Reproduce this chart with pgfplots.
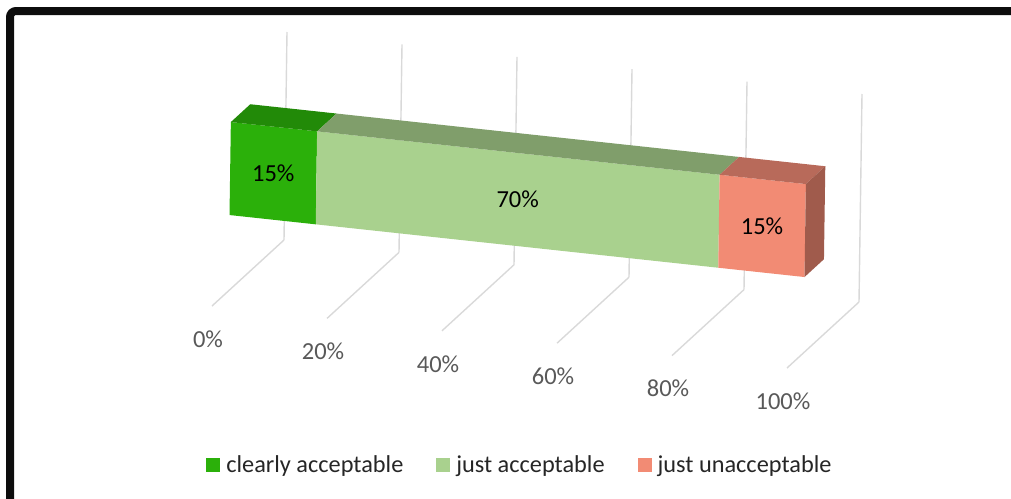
\documentclass[border=0pt]{standalone}
\usepackage{pgfplots}
\pgfplotsset{compat=1.18}
\usepackage{fontspec}
\setmainfont{Carlito}
\definecolor{cG}{HTML}{2BB00A}
\definecolor{cGt}{HTML}{228A08}
\definecolor{cL}{HTML}{A9D18E}
\definecolor{cLt}{HTML}{809E6B}
\definecolor{cR}{HTML}{F28B74}
\definecolor{cRt}{HTML}{B86A5A}
\definecolor{cRs}{HTML}{A05B4C}
\definecolor{cGrid}{HTML}{D9D9D9}
\definecolor{cTxt}{HTML}{595959}
\definecolor{cLeg}{HTML}{262626}
\pgfplotsset{sqlegend/.style={legend image code/.code={\fill[##1] (0pt,-7pt) rectangle (14pt,7pt); \path (18pt,0pt);}}}
\begin{document}
\begin{tikzpicture}
\useasboundingbox (0pt,0pt) rectangle (1011pt,-498pt);
\clip (0pt,0pt) rectangle (1011pt,-498pt);
\draw[line width=8pt, color=black!95, rounded corners=6pt] (10pt,-11pt) rectangle (1040pt,-530pt);
\begin{axis}[
  at={(212pt,-306pt)}, anchor=origin,
  x={(5.75pt,-0.62pt)}, y={(72pt,66pt)}, z={(3pt,208pt)},
  xmin=0, xmax=100, ymin=0, ymax=1, zmin=0, zmax=1,
  xtick={0,20,40,60,80,100},
  xticklabels={0\%,20\%,40\%,60\%,80\%,100\%},
  ytick=\empty, ztick=\empty,
  xmajorgrids,
  major grid style={draw=cGrid, line width=1.4pt},
  axis line style={draw=none},
  major tick length=0pt,
  clip=false,
  xticklabel style={font=\fontsize{24.5}{28}\selectfont, text=cTxt, anchor=center, yshift=-33pt, xshift=-4pt},
  legend style={at={(axis cs:74.9,-1.705,0)}, anchor=center, draw=none, fill=none,
    legend columns=3, font=\fontsize{24.3}{28}\selectfont, text=cLeg,
    /tikz/every even column/.append style={column sep=31pt}},
  legend cell align=left,
]
% green segment (0-15)
\addplot3[fill=cG, draw=none, forget plot] coordinates {(0,0.228,0.365) (15,0.228,0.365) (15,0.228,0.812) (0,0.228,0.812)};
\addplot3[fill=cGt, draw=none, forget plot] coordinates {(0,0.228,0.812) (15,0.228,0.812) (15,0.498,0.812) (0,0.498,0.812)};
% light green segment (15-85)
\addplot3[fill=cL, draw=none, forget plot] coordinates {(15,0.228,0.365) (85,0.228,0.365) (85,0.228,0.812) (15,0.228,0.812)};
\addplot3[fill=cLt, draw=none, forget plot] coordinates {(15,0.228,0.812) (85,0.228,0.812) (85,0.498,0.812) (15,0.498,0.812)};
% red segment (85-100)
\addplot3[fill=cR, draw=none, forget plot] coordinates {(85,0.228,0.365) (100,0.228,0.365) (100,0.228,0.812) (85,0.228,0.812)};
\addplot3[fill=cRt, draw=none, forget plot] coordinates {(85,0.228,0.812) (100,0.228,0.812) (100,0.498,0.812) (85,0.498,0.812)};
\addplot3[fill=cRs, draw=none, forget plot] coordinates {(100,0.228,0.365) (100,0.498,0.365) (100,0.498,0.812) (100,0.228,0.812)};
% labels
\addplot3[draw=none, mark=none, forget plot, nodes near coords, point meta=explicit symbolic,
  nodes near coords style={anchor=center, text=black, font=\fontsize{24.5}{28}\selectfont}]
  coordinates {(7.5,0.228,0.589) [15\%] (50,0.228,0.589) [70\%] (92.5,0.228,0.589) [15\%]};
\addlegendimage{sqlegend, fill=cG, draw=none}
\addlegendentry{clearly acceptable}
\addlegendimage{sqlegend, fill=cL, draw=none}
\addlegendentry{just acceptable}
\addlegendimage{sqlegend, fill=cR, draw=none}
\addlegendentry{just unacceptable}
\end{axis}
\end{tikzpicture}
\end{document}
